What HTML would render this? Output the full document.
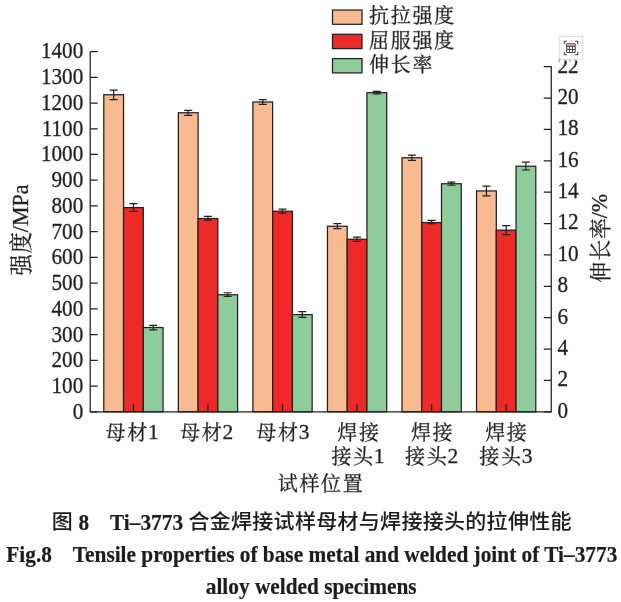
<!DOCTYPE html>
<html lang="zh"><head><meta charset="utf-8"><title>Fig.8</title>
<style>
html,body{margin:0;padding:0;background:#fff;}
body{width:621px;height:602px;overflow:hidden;position:relative;}
svg{position:absolute;left:0;top:0;display:block;}
svg text{font-family:"Liberation Serif","Noto Serif CJK SC",serif;fill:#231f20;stroke:#231f20;stroke-width:0.3px;stroke-linejoin:round;}
.cap{position:absolute;left:1.3px;width:621px;height:32px;line-height:32px;text-align:center;white-space:pre;color:#1d1d1d;font-weight:bold;font-family:"Liberation Serif","Noto Sans CJK SC",serif;font-size:21.32px;transform-origin:50% 50%;transform:scaleY(1.05);-webkit-text-stroke:0.2px #1d1d1d;}
.cap .c{font-family:"Noto Sans CJK SC","Liberation Sans",sans-serif;font-weight:500;font-size:21px;letter-spacing:0.3px;display:inline-block;transform:translateY(-0.4px) scaleY(0.915);transform-origin:50% 58%;-webkit-text-stroke:0.05px #1d1d1d;}
.l1{top:504.5px;}
.l2{top:538.6px;}
.l3{top:570.6px;left:0.7px;}
</style></head><body>
<svg width="621" height="500" viewBox="0 0 621 500">
<rect x="103.80" y="94.75" width="19.75" height="317.05" fill="#f8ba90" stroke="#231f20" stroke-width="1.25"/>
<rect x="123.55" y="207.60" width="19.75" height="204.20" fill="#ee2a28" stroke="#231f20" stroke-width="1.25"/>
<rect x="143.30" y="327.55" width="19.75" height="84.25" fill="#8fcc9c" stroke="#231f20" stroke-width="1.25"/>
<path d="M113.67 90.05V99.65M109.67 90.05h8M109.67 99.65h8" fill="none" stroke="#231f20" stroke-width="1.2"/>
<path d="M133.43 203.65V211.35M129.43 203.65h8M129.43 211.35h8" fill="none" stroke="#231f20" stroke-width="1.2"/>
<path d="M153.18 325.35V329.95M149.18 325.35h8M149.18 329.95h8" fill="none" stroke="#231f20" stroke-width="1.2"/>
<rect x="178.35" y="112.75" width="19.75" height="299.05" fill="#f8ba90" stroke="#231f20" stroke-width="1.25"/>
<rect x="198.10" y="218.55" width="19.75" height="193.25" fill="#ee2a28" stroke="#231f20" stroke-width="1.25"/>
<rect x="217.85" y="294.75" width="19.75" height="117.05" fill="#8fcc9c" stroke="#231f20" stroke-width="1.25"/>
<path d="M188.22 110.35V115.30M184.22 110.35h8M184.22 115.30h8" fill="none" stroke="#231f20" stroke-width="1.2"/>
<path d="M207.97 216.35V220.30M203.97 216.35h8M203.97 220.30h8" fill="none" stroke="#231f20" stroke-width="1.2"/>
<path d="M227.72 292.75V296.30M223.72 292.75h8M223.72 296.30h8" fill="none" stroke="#231f20" stroke-width="1.2"/>
<rect x="252.90" y="102.00" width="19.75" height="309.80" fill="#f8ba90" stroke="#231f20" stroke-width="1.25"/>
<rect x="272.65" y="211.20" width="19.75" height="200.60" fill="#ee2a28" stroke="#231f20" stroke-width="1.25"/>
<rect x="292.40" y="314.65" width="19.75" height="97.15" fill="#8fcc9c" stroke="#231f20" stroke-width="1.25"/>
<path d="M262.77 99.55V104.45M258.77 99.55h8M258.77 104.45h8" fill="none" stroke="#231f20" stroke-width="1.2"/>
<path d="M282.52 209.10V213.05M278.52 209.10h8M278.52 213.05h8" fill="none" stroke="#231f20" stroke-width="1.2"/>
<path d="M302.27 311.55V317.30M298.27 311.55h8M298.27 317.30h8" fill="none" stroke="#231f20" stroke-width="1.2"/>
<rect x="327.45" y="226.25" width="19.75" height="185.55" fill="#f8ba90" stroke="#231f20" stroke-width="1.25"/>
<rect x="347.20" y="239.25" width="19.75" height="172.55" fill="#ee2a28" stroke="#231f20" stroke-width="1.25"/>
<rect x="366.95" y="92.70" width="19.75" height="319.10" fill="#8fcc9c" stroke="#231f20" stroke-width="1.25"/>
<path d="M337.32 223.55V228.70M333.32 223.55h8M333.32 228.70h8" fill="none" stroke="#231f20" stroke-width="1.2"/>
<path d="M357.07 237.05V241.40M353.07 237.05h8M353.07 241.40h8" fill="none" stroke="#231f20" stroke-width="1.2"/>
<path d="M376.82 91.40V93.85M372.82 91.40h8M372.82 93.85h8" fill="none" stroke="#231f20" stroke-width="1.2"/>
<rect x="402.00" y="157.75" width="19.75" height="254.05" fill="#f8ba90" stroke="#231f20" stroke-width="1.25"/>
<rect x="421.75" y="222.60" width="19.75" height="189.20" fill="#ee2a28" stroke="#231f20" stroke-width="1.25"/>
<rect x="441.50" y="183.75" width="19.75" height="228.05" fill="#8fcc9c" stroke="#231f20" stroke-width="1.25"/>
<path d="M411.88 155.20V160.40M407.88 155.20h8M407.88 160.40h8" fill="none" stroke="#231f20" stroke-width="1.2"/>
<path d="M431.62 220.35V223.75M427.62 220.35h8M427.62 223.75h8" fill="none" stroke="#231f20" stroke-width="1.2"/>
<path d="M451.38 182.05V185.25M447.38 182.05h8M447.38 185.25h8" fill="none" stroke="#231f20" stroke-width="1.2"/>
<rect x="476.55" y="190.95" width="19.75" height="220.85" fill="#f8ba90" stroke="#231f20" stroke-width="1.25"/>
<rect x="496.30" y="230.15" width="19.75" height="181.65" fill="#ee2a28" stroke="#231f20" stroke-width="1.25"/>
<rect x="516.05" y="166.25" width="19.75" height="245.55" fill="#8fcc9c" stroke="#231f20" stroke-width="1.25"/>
<path d="M486.43 186.05V195.80M482.43 186.05h8M482.43 195.80h8" fill="none" stroke="#231f20" stroke-width="1.2"/>
<path d="M506.18 225.55V234.70M502.18 225.55h8M502.18 234.70h8" fill="none" stroke="#231f20" stroke-width="1.2"/>
<path d="M525.92 162.05V170.00M521.92 162.05h8M521.92 170.00h8" fill="none" stroke="#231f20" stroke-width="1.2"/>
<path d="M90.2 51.55V411.8H551.25V66.62" fill="none" stroke="#231f20" stroke-width="1.25" stroke-linejoin="miter"/>
<text transform="translate(83.3 418.83) scale(0.985 1.07)" font-size="21.5" text-anchor="end">0</text>
<text transform="translate(83.3 393.08) scale(0.985 1.07)" font-size="21.5" text-anchor="end">100</text>
<text transform="translate(83.3 367.33) scale(0.985 1.07)" font-size="21.5" text-anchor="end">200</text>
<text transform="translate(83.3 341.57) scale(0.985 1.07)" font-size="21.5" text-anchor="end">300</text>
<text transform="translate(83.3 315.82) scale(0.985 1.07)" font-size="21.5" text-anchor="end">400</text>
<text transform="translate(83.3 290.07) scale(0.985 1.07)" font-size="21.5" text-anchor="end">500</text>
<text transform="translate(83.3 264.32) scale(0.985 1.07)" font-size="21.5" text-anchor="end">600</text>
<text transform="translate(83.3 238.56) scale(0.985 1.07)" font-size="21.5" text-anchor="end">700</text>
<text transform="translate(83.3 212.81) scale(0.985 1.07)" font-size="21.5" text-anchor="end">800</text>
<text transform="translate(83.3 187.06) scale(0.985 1.07)" font-size="21.5" text-anchor="end">900</text>
<text transform="translate(83.3 161.31) scale(0.985 1.07)" font-size="21.5" text-anchor="end">1000</text>
<text transform="translate(83.3 135.56) scale(0.985 1.07)" font-size="21.5" text-anchor="end">1100</text>
<text transform="translate(83.3 109.80) scale(0.985 1.07)" font-size="21.5" text-anchor="end">1200</text>
<text transform="translate(83.3 84.05) scale(0.985 1.07)" font-size="21.5" text-anchor="end">1300</text>
<text transform="translate(83.3 58.30) scale(0.985 1.07)" font-size="21.5" text-anchor="end">1400</text>
<text transform="translate(557.4 417.70) scale(0.985 1.07)" font-size="21.5">0</text>
<text transform="translate(557.4 386.32) scale(0.985 1.07)" font-size="21.5">2</text>
<text transform="translate(557.4 354.94) scale(0.985 1.07)" font-size="21.5">4</text>
<text transform="translate(557.4 323.56) scale(0.985 1.07)" font-size="21.5">6</text>
<text transform="translate(557.4 292.18) scale(0.985 1.07)" font-size="21.5">8</text>
<text transform="translate(557.4 260.80) scale(0.985 1.07)" font-size="21.5">10</text>
<text transform="translate(557.4 229.42) scale(0.985 1.07)" font-size="21.5">12</text>
<text transform="translate(557.4 198.04) scale(0.985 1.07)" font-size="21.5">14</text>
<text transform="translate(557.4 166.66) scale(0.985 1.07)" font-size="21.5">16</text>
<text transform="translate(557.4 135.28) scale(0.985 1.07)" font-size="21.5">18</text>
<text transform="translate(557.4 103.90) scale(0.985 1.07)" font-size="21.5">20</text>
<text transform="translate(557.4 72.52) scale(0.985 1.07)" font-size="21.5">22</text>
<path d="M90.2 411.80h7.5M90.2 386.07h7.5M90.2 360.34h7.5M90.2 334.60h7.5M90.2 308.87h7.5M90.2 283.14h7.5M90.2 257.41h7.5M90.2 231.68h7.5M90.2 205.94h7.5M90.2 180.21h7.5M90.2 154.48h7.5M90.2 128.75h7.5M90.2 103.01h7.5M90.2 77.28h7.5M90.2 51.55h7.5M551.25 411.80h-7.5M551.25 380.42h-7.5M551.25 349.04h-7.5M551.25 317.66h-7.5M551.25 286.28h-7.5M551.25 254.90h-7.5M551.25 223.52h-7.5M551.25 192.14h-7.5M551.25 160.76h-7.5M551.25 129.38h-7.5M551.25 98.00h-7.5M551.25 66.62h-7.5M133.43 411.8v-7.5M207.97 411.8v-7.5M282.52 411.8v-7.5M357.07 411.8v-7.5M431.62 411.8v-7.5M506.18 411.8v-7.5" fill="none" stroke="#231f20" stroke-width="1.25"/>
<text x="132.12" y="438.80" font-size="21.5" text-anchor="middle"><tspan font-size="20.0" letter-spacing="1.7" dy="0.7">母材</tspan><tspan dy="-0.7" dx="-1">1</tspan></text>
<text x="206.67" y="438.80" font-size="21.5" text-anchor="middle"><tspan font-size="20.0" letter-spacing="1.7" dy="0.7">母材</tspan><tspan dy="-0.7" dx="-1">2</tspan></text>
<text x="282.82" y="438.80" font-size="21.5" text-anchor="middle"><tspan font-size="20.0" letter-spacing="1.7" dy="0.7">母材</tspan><tspan dy="-0.7" dx="-1">3</tspan></text>
<text x="358.97" y="438.80" font-size="21.5" text-anchor="middle"><tspan font-size="20.0" letter-spacing="1.7" dy="0.7">焊接</tspan></text>
<text x="357.97" y="463.30" font-size="21.5" text-anchor="middle"><tspan font-size="20.0" letter-spacing="1.7" dy="0.7">接头</tspan><tspan dy="-0.7" dx="-1">1</tspan></text>
<text x="432.62" y="438.80" font-size="21.5" text-anchor="middle"><tspan font-size="20.0" letter-spacing="1.7" dy="0.7">焊接</tspan></text>
<text x="431.62" y="463.30" font-size="21.5" text-anchor="middle"><tspan font-size="20.0" letter-spacing="1.7" dy="0.7">接头</tspan><tspan dy="-0.7" dx="-1">2</tspan></text>
<text x="506.88" y="438.80" font-size="21.5" text-anchor="middle"><tspan font-size="20.0" letter-spacing="1.7" dy="0.7">焊接</tspan></text>
<text x="505.88" y="463.30" font-size="21.5" text-anchor="middle"><tspan font-size="20.0" letter-spacing="1.7" dy="0.7">接头</tspan><tspan dy="-0.7" dx="-1">3</tspan></text>
<text x="321.1" y="490" font-size="21.5" text-anchor="middle"><tspan font-size="20.0" letter-spacing="1.7" dy="0.7">试样位置</tspan></text>
<text transform="translate(28.0 230) rotate(-90) scale(1 1.06)" font-size="22" text-anchor="middle"><tspan font-size="21.2" letter-spacing="1.0" dy="0.9">强度</tspan><tspan dy="-0.9" dx="-1">/MPa</tspan></text>
<text transform="translate(607.2 238.4) rotate(-90) scale(0.985 1.04)" font-size="22" text-anchor="middle"><tspan font-size="21.2" letter-spacing="1.0" dy="0.9">伸长率</tspan><tspan dy="-0.9" dx="-1">/%</tspan></text>
<rect x="332.5" y="10.00" width="29.5" height="14.3" fill="#f8ba90" stroke="#231f20" stroke-width="1.25"/>
<text x="369" y="22.50" font-size="21.5"><tspan font-size="20.0" letter-spacing="1.7" dy="0.7">抗拉强度</tspan></text>
<rect x="332.5" y="34.30" width="29.5" height="14.3" fill="#ee2a28" stroke="#231f20" stroke-width="1.25"/>
<text x="369" y="46.80" font-size="21.5"><tspan font-size="20.0" letter-spacing="1.7" dy="0.7">屈服强度</tspan></text>
<rect x="332.5" y="58.60" width="29.5" height="14.3" fill="#8fcc9c" stroke="#231f20" stroke-width="1.25"/>
<text x="369" y="71.10" font-size="21.5"><tspan font-size="20.0" letter-spacing="1.7" dy="0.7">伸长率</tspan></text>
<g>
<rect x="557.7" y="34.6" width="26.5" height="26.5" rx="1.5" fill="#f4f4f4" opacity="0.55"/>
<rect x="559.7" y="36.6" width="22.6" height="22.6" fill="#fff" stroke="#dcdcdc" stroke-width="1"/>
<path d="M564.3 44v-2.400q0-.3.300-.3h2.400M575 41.300h2.400q.3 0 .3.300v2.400M577.7 52v2.400q0 .3-.3.300h-2.400M567 54.700h-2.400q-.3 0-.3-.3v-2.400" fill="none" stroke="#444" stroke-width="1.1"/>
<rect x="566.6" y="43.8" width="8.6" height="8.7" rx="0.5" fill="#fff" stroke="#4a4a4a" stroke-width="1.1"/>
<rect x="567.1" y="44.35" width="7.6" height="1.55" fill="#f47d7d"/>
<path d="M566.6 46.4h8.600M566.6 49.500h8.600M569.4 46.400v6.100M572.500 46.400v6.100" fill="none" stroke="#4a4a4a" stroke-width="1"/>
</g>
</svg>
<div class="cap l1"><span class="c">图</span> 8    Ti–3773 <span class="c">合金焊接试样母材与焊接接头的拉伸性能</span></div>
<div class="cap l2">Fig.8    Tensile properties of base metal and welded joint of Ti–3773</div>
<div class="cap l3">alloy welded specimens</div>
</body></html>
